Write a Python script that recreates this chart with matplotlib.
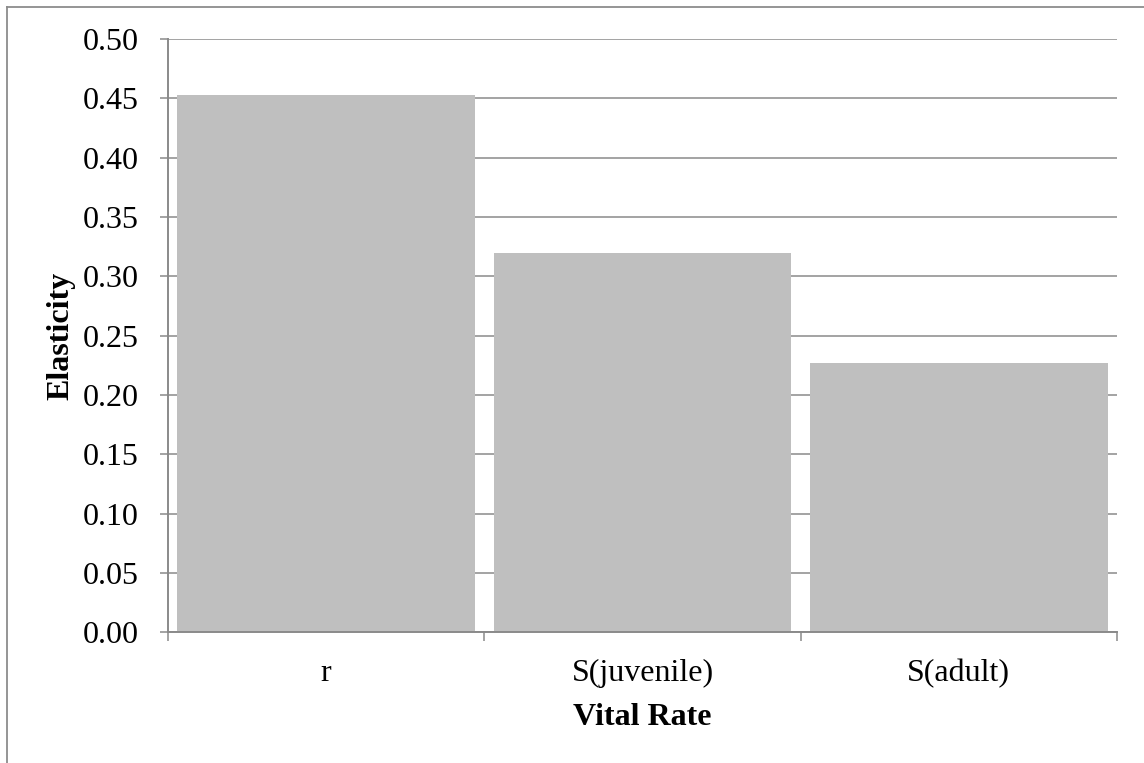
import numpy as np
import matplotlib
matplotlib.use("Agg")
import matplotlib.pyplot as plt
from matplotlib.lines import Line2D

# values
rates = ["r", "S(juvenile)", "S(adult)"]
elasticity = [0.453, 0.320, 0.227]
yticks = [0.00, 0.05, 0.10, 0.15, 0.20, 0.25, 0.30, 0.35, 0.40, 0.45, 0.50]

plt.rcParams['font.family'] = ['Liberation Serif', 'DejaVu Serif']

W, H = 1144, 763
fig = plt.figure(figsize=(W / 100, H / 100), dpi=100)
ax = fig.add_axes([168 / W, 1 - 632.3 / H, (1117 - 168) / W, (632.3 - 39) / H])

grey = "#8a8a8a"
fs = 23
x = np.arange(len(rates))
ax.bar(x, elasticity, width=0.94, color="#bfbfbf", edgecolor="none", zorder=2)

ax.set_xlim(-0.5, len(rates) - 0.5)
ax.set_ylim(0, 0.5)
ax.set_yticks(yticks)
ax.set_yticklabels([f"{v:.2f}" for v in yticks])
ax.yaxis.grid(True, color=grey, linewidth=1.1, zorder=0)
ax.set_axisbelow(True)

# ticks at category borders, labels at centres
ax.set_xticks(np.arange(len(rates) + 1) - 0.5)
ax.set_xticklabels([])
ax.set_xticks(x, minor=True)
ax.set_xticklabels(rates, minor=True)
ax.tick_params(axis="x", which="major", direction="out", length=6.5, width=1.1, color=grey)
ax.tick_params(axis="x", which="minor", length=0, pad=19, labelsize=fs)
ax.tick_params(axis="y", direction="out", length=6, width=1.1, color=grey, pad=15, labelsize=fs)

for side in ["top", "right"]:
    ax.spines[side].set_visible(False)
for side in ["left", "bottom"]:
    ax.spines[side].set_color(grey)
    ax.spines[side].set_linewidth(1.4)

ax.set_xlabel("Vital Rate", fontsize=fs, fontweight="bold")
ax.set_ylabel("Elasticity", fontsize=fs, fontweight="bold")
ax.xaxis.set_label_coords(0.5, (632.3 - 703) / (632.3 - 39))
ax.yaxis.set_label_coords((75 - 168) / (1117 - 168), 0.5)

# outer chart border (only top and left visible in the reference)
fig.add_artist(Line2D([7 / W, 7 / W], [0, 1 - 7 / H], transform=fig.transFigure, color="#8c8c8c", linewidth=1.3))
fig.add_artist(Line2D([7 / W, 1], [1 - 7 / H, 1 - 7 / H], transform=fig.transFigure, color="#8c8c8c", linewidth=1.3))

fig.savefig("out.png", dpi=100)
